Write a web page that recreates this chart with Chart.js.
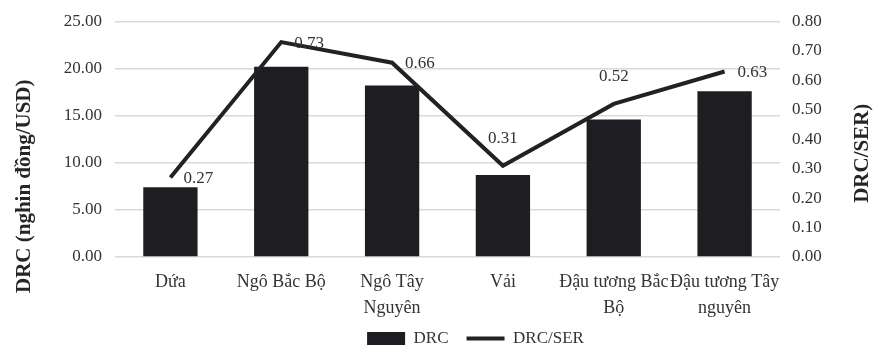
<!DOCTYPE html>
<html>
<head>
<meta charset="utf-8">
<script src="https://cdn.jsdelivr.net/npm/chart.js@4.4.0/dist/chart.umd.min.js"></script>
<style>
    html, body { margin: 0; padding: 0; background: #fff; }
    #graph { width: 873px; height: 348px; }
</style>
</head>
<body>
<div id="graph"><canvas id="myChart" width="873" height="348"></canvas></div>
<script>
// data
var categories = ["Dứa", "Ngô Bắc Bộ", ["Ngô Tây", "Nguyên"], "Vải", ["Đậu tương Bắc", "Bộ"], ["Đậu tương Tây", "nguyên"]];
var drcValues = [7.4, 20.2, 18.2, 8.7, 14.6, 17.6];
var drcSerValues = [0.27, 0.73, 0.66, 0.31, 0.52, 0.63];
var leftTicks = [0, 5, 10, 15, 20, 25];
var rightTicks = [0, 0.1, 0.2, 0.3, 0.4, 0.5, 0.6, 0.7, 0.8];
var labelPos = ["right", "right", "right", "top", "top", "right"];

var FONT = "'Liberation Serif', 'Times New Roman', serif";
Chart.defaults.font.family = FONT;
Chart.defaults.color = "#333";

/** value labels next to the line points */
var lineLabels = {
    id: "lineLabels",
    afterDatasetsDraw: function (chart) {
        var meta = chart.getDatasetMeta(1);
        var ctx = chart.ctx;
        ctx.save();
        ctx.font = "17px " + FONT;
        ctx.fillStyle = "#333";
        meta.data.forEach(function (pt, i) {
            var txt = drcSerValues[i].toFixed(2);
            ctx.textBaseline = "middle";
            if (labelPos[i] == "top") {
                ctx.textAlign = "center";
                ctx.fillText(txt, pt.x, pt.y - 27);
            } else {
                ctx.textAlign = "left";
                ctx.fillText(txt, pt.x + 13, pt.y + 1);
            }
        });
        ctx.restore();
    },
};

/** axis titles, both read bottom to top */
var axisTitles = {
    id: "axisTitles",
    afterDraw: function (chart) {
        var ctx = chart.ctx;
        var y = chart.scales.y, y1 = chart.scales.y1;
        var mid = (y.top + y.bottom) / 2;
        ctx.save();
        ctx.font = "bold 21px " + FONT;
        ctx.fillStyle = "#262626";
        ctx.textAlign = "center";
        ctx.textBaseline = "middle";
        ctx.translate(y.left + 25, mid + 47);
        ctx.rotate(-Math.PI / 2);
        ctx.fillText("DRC (nghin đồng/USD)", 0, 0);
        ctx.restore();
        ctx.save();
        ctx.font = "bold 21px " + FONT;
        ctx.fillStyle = "#262626";
        ctx.textAlign = "center";
        ctx.textBaseline = "middle";
        ctx.translate(y1.right - 10, mid + 14);
        ctx.rotate(-Math.PI / 2);
        ctx.fillText("DRC/SER)", 0, 0);
        ctx.restore();
    },
};

/** nudge the legend where it sits in the picture */
var legendShift = {
    id: "legendShift",
    afterLayout: function (chart) {
        var lg = chart.legend;
        lg.left += 39; lg.right += 39;
        lg.top -= 8; lg.bottom += 30;
    },
};

const ctx = document.getElementById("myChart");
var myChart = new Chart(ctx, {
    type: "bar",
    data: {
        labels: categories,
        datasets: [
            {
                type: "bar",
                label: "DRC",
                data: drcValues,
                yAxisID: "y",
                backgroundColor: "#1d1d22",
                borderWidth: 0,
                categoryPercentage: 1,
                barPercentage: 0.49,
                pointStyle: "rect",
                order: 2,
            },
            {
                type: "line",
                label: "DRC/SER",
                data: drcSerValues,
                yAxisID: "y1",
                borderColor: "#222",
                backgroundColor: "#222",
                borderWidth: 4,
                pointRadius: 0,
                pointStyle: "line",
                tension: 0,
                order: 1,
            },
        ],
    },
    options: {
        responsive: false,
        animation: false,
        layout: { padding: { top: 0, left: 0, right: 0, bottom: 0 } },
        plugins: {
            tooltip: { enabled: false },
            legend: {
                position: "bottom",
                maxHeight: 28,
                labels: {
                    usePointStyle: true,
                    pointStyleWidth: 38,
                    boxHeight: 13,
                    padding: 18,
                    color: "#333",
                    font: { size: 17 },
                    sort: function (a, b) { return a.datasetIndex - b.datasetIndex; },
                },
            },
        },
        scales: {
            x: {
                grid: { display: false },
                border: { display: false },
                ticks: {
                    color: "#333",
                    font: { size: 18, lineHeight: 1.4 },
                    padding: 5,
                    maxRotation: 0,
                    autoSkip: false,
                },
                afterFit: function (s) { s.height = 63; },
            },
            y: {
                position: "left",
                min: 0,
                max: 25,
                afterBuildTicks: function (s) {
                    s.ticks = leftTicks.map(function (v) { return { value: v }; });
                },
                ticks: {
                    callback: function (v) { return Number(v).toFixed(2); },
                    color: "#333",
                    font: { size: 17, lineHeight: 1 },
                    padding: 13,
                },
                grid: { color: "#d9d9d9", lineWidth: 1.5, drawTicks: false },
                border: { display: false },
                afterFit: function (s) { s.width = 115; },
            },
            y1: {
                position: "right",
                min: 0,
                max: 0.8,
                afterBuildTicks: function (s) {
                    s.ticks = rightTicks.map(function (v) { return { value: v }; });
                },
                ticks: {
                    callback: function (v) { return Number(v).toFixed(2); },
                    color: "#333",
                    font: { size: 17, lineHeight: 1 },
                    padding: 12,
                },
                grid: { display: false, drawTicks: false },
                border: { display: false },
                afterFit: function (s) { s.width = 93; },
            },
        },
    },
    plugins: [lineLabels, axisTitles, legendShift],
});
</script>
</body>
</html>
